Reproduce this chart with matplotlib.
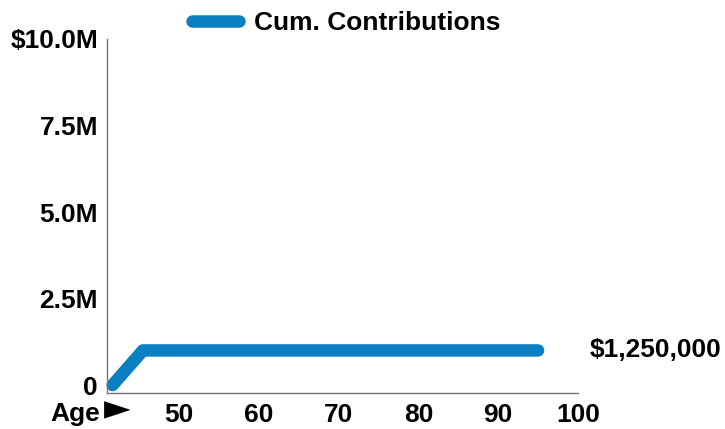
import matplotlib.pyplot as plt
from matplotlib.ticker import FixedLocator

plt.rcParams['font.family'] = ['Liberation Sans', 'DejaVu Sans']

# data
ages = [41.7, 45.5, 95]
contributions = [0, 1000000, 1000000]
y_ticks = [0, 2500000, 5000000, 7500000, 10000000]
y_labels = ["0", "2.5M", "5.0M", "7.5M", "$10.0M"]
x_ticks = [50, 60, 70, 80, 90, 100]
end_label = "$1,250,000"

W, H = 725, 429
fig = plt.figure(figsize=(7.25, 4.29), dpi=100)
left, right, top, bottom = 107, 578, 39, 393
ax = fig.add_axes([left / W, 1 - bottom / H, (right - left) / W, (bottom - top) / H])

blue = "#0a7fc1"
fs = 19
ax.plot(ages, contributions, color=blue, linewidth=9, solid_capstyle="round",
        solid_joinstyle="round", label="Cum. Contributions", clip_on=False)

ax.set_xlim(41, 100)
ax.set_ylim(-230000, 10000000)
ax.yaxis.set_major_locator(FixedLocator(y_ticks))
ax.set_yticklabels(y_labels)
ax.set_xticks(x_ticks)
ax.tick_params(axis="y", length=0, labelsize=fs, pad=6.5)
ax.tick_params(axis="x", length=0, labelsize=fs, pad=7)
for lab in ax.get_xticklabels() + ax.get_yticklabels():
    lab.set_fontweight("bold")

for s in ["top", "right"]:
    ax.spines[s].set_visible(False)
for s in ["left", "bottom"]:
    ax.spines[s].set_color("#777777")
    ax.spines[s].set_linewidth(1)

# "Age" label with a large pointer after it
fig.text(100 / W, 1 - 414 / H, "Age", ha="right", va="center",
         fontsize=fs, fontweight="bold")
fig.text(104 / W, 1 - 409 / H, "\u25BA", ha="left", va="center",
         fontsize=25, family=['DejaVu Sans'])

fig.text(590 / W, 1 - 350 / H, end_label, ha="left", va="center",
         fontsize=fs, fontweight="bold")

leg = fig.legend(loc="center", bbox_to_anchor=(346 / W, 1 - 23 / H), frameon=False,
                 prop={"size": fs, "weight": "bold"}, handlelength=1.8, handletextpad=0.55)

fig.savefig("out.png", dpi=100)
